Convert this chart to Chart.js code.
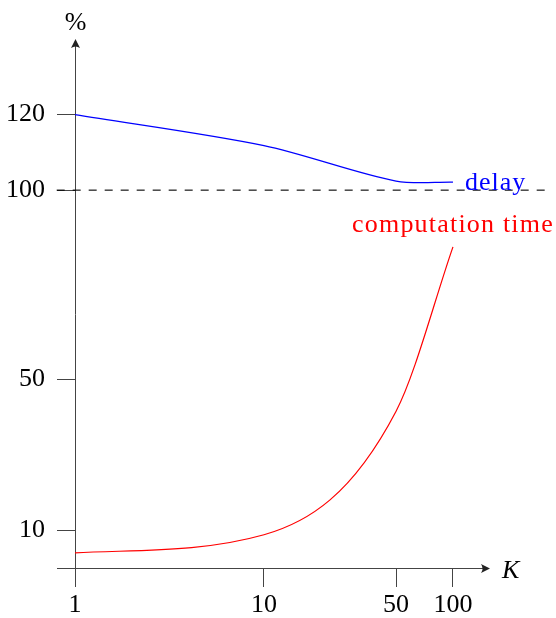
<!DOCTYPE html>
<html>
<head>
<meta charset="utf-8">
<script src="https://cdn.jsdelivr.net/npm/chart.js@4/dist/chart.umd.min.js"></script>
<style>
html,body{margin:0;padding:0;background:#fff;overflow:hidden}
#wrap{position:relative;width:556px;height:618px}
</style>
</head>
<body>
<div id="wrap"><canvas id="c" width="556" height="618"></canvas></div>
<script>
// ---- data ----
const kValues = [1, 10, 50, 100];
const delayPct = [120, 111.8, 102.4, 102.1];
const computationPct = [4, 8.8, 41.5, 85];
const referencePct = 100;
const referenceK = [0.8, 307];
const xTickValues = [1, 10, 50, 100];
const yTickValues = [10, 50, 100, 120];
const xRange = [1, 157];
const yRange = [0, 140];
const seriesNames = ['delay', 'computation time'];
const axisNames = { x: 'K', y: '%' };

const FONT = '"Liberation Serif", "Times New Roman", serif';
const AXIS_COLOR = '#444';

function arrowHead(ctx, tipX, tipY, dir) {
  ctx.beginPath();
  if (dir === 'right') {
    ctx.moveTo(tipX, tipY);
    ctx.lineTo(tipX - 9, tipY - 4.5);
    ctx.quadraticCurveTo(tipX - 6, tipY, tipX - 9, tipY + 4.5);
  } else {
    ctx.moveTo(tipX, tipY);
    ctx.lineTo(tipX - 4.5, tipY + 9);
    ctx.quadraticCurveTo(tipX, tipY + 6, tipX + 4.5, tipY + 9);
  }
  ctx.closePath();
  ctx.fill();
}

const axesPlugin = {
  id: 'tikzAxes',
  beforeDatasetsDraw(chart) {
    const { ctx, chartArea, scales } = chart;
    const xs = scales.x, ys = scales.y;
    const y0 = Math.round(ys.getPixelForValue(yRange[0])) + 0.5;
    const x0 = Math.round(xs.getPixelForValue(xRange[0])) + 0.5;
    const yTick = ys.options.grid.tickLength;
    const xTick = xs.options.grid.tickLength;
    ctx.save();
    ctx.strokeStyle = AXIS_COLOR;
    ctx.fillStyle = '#222';
    ctx.lineWidth = 1;
    ctx.beginPath();
    ctx.moveTo(chartArea.left - yTick, y0);
    ctx.lineTo(chartArea.right - 3, y0);
    ctx.stroke();
    arrowHead(ctx, chartArea.right, y0, 'right');
    ctx.beginPath();
    ctx.moveTo(x0, chartArea.bottom + xTick);
    ctx.lineTo(x0, chartArea.top + 3);
    ctx.stroke();
    arrowHead(ctx, x0, chartArea.top, 'up');
    ctx.fillStyle = '#000';
    ctx.font = '26px ' + FONT;
    ctx.textAlign = 'center';
    ctx.textBaseline = 'alphabetic';
    ctx.fillText(axisNames.y, x0, chartArea.top - 9);
    ctx.font = 'italic 26px ' + FONT;
    ctx.textAlign = 'left';
    ctx.fillText(axisNames.x, chartArea.right + 12, y0 + 9);
    ctx.restore();
  },
  afterDatasetsDraw(chart) {
    const { ctx } = chart;
    const pd = chart.getDatasetMeta(1).data;
    const pc = chart.getDatasetMeta(2).data;
    const lastD = pd[pd.length - 1];
    const lastC = pc[pc.length - 1];
    ctx.save();
    ctx.font = '26px ' + FONT;
    ctx.textBaseline = 'alphabetic';
    ctx.letterSpacing = '1px';
    ctx.fillStyle = '#0000ff';
    ctx.textAlign = 'left';
    ctx.fillText(seriesNames[0], lastD.x + 12, lastD.y + 8);
    ctx.fillStyle = '#ff0000';
    ctx.textAlign = 'center';
    ctx.letterSpacing = '1.2px';
    ctx.fillText(seriesNames[1], lastC.x, lastC.y - 15);
    ctx.restore();
  }
};

const tickFont = { family: FONT, size: 26 };

new Chart(document.getElementById('c'), {
  type: 'line',
  data: {
    datasets: [
      {
        label: 'reference',
        data: referenceK.map(k => ({ x: k, y: referencePct })),
        borderColor: '#000',
        borderWidth: 1.1,
        borderDash: [8, 8],
        pointRadius: 0,
        tension: 0,
        clip: false
      },
      {
        label: seriesNames[0],
        data: kValues.map((k, i) => ({ x: k, y: delayPct[i] })),
        borderColor: '#0000ff',
        borderWidth: 1.2,
        pointRadius: 0,
        tension: 0.3,
        clip: false
      },
      {
        label: seriesNames[1],
        data: kValues.map((k, i) => ({ x: k, y: computationPct[i] })),
        borderColor: '#ff0000',
        borderWidth: 1.2,
        pointRadius: 0,
        cubicInterpolationMode: 'monotone',
        clip: false
      }
    ]
  },
  options: {
    responsive: false,
    animation: false,
    devicePixelRatio: 1,
    layout: { padding: { left: 0, top: 39, right: 66, bottom: 0 } },
    plugins: { legend: { display: false }, tooltip: { enabled: false } },
    scales: {
      x: {
        type: 'logarithmic',
        min: xRange[0],
        max: xRange[1],
        afterBuildTicks: s => { s.ticks = xTickValues.map(v => ({ value: v })); },
        afterFit: s => { s.height = 50; },
        ticks: {
          autoSkip: false, maxRotation: 0, minRotation: 0,
          font: tickFont, color: '#000', padding: 3,
          callback: v => String(v)
        },
        grid: { drawOnChartArea: false, drawTicks: true, tickLength: 19, color: AXIS_COLOR, lineWidth: 1 },
        border: { display: false }
      },
      y: {
        type: 'linear',
        min: yRange[0],
        max: yRange[1],
        afterBuildTicks: s => { s.ticks = yTickValues.map(v => ({ value: v })); },
        afterFit: s => { s.width = 75; },
        ticks: {
          autoSkip: false,
          font: tickFont, color: '#000', padding: 12,
          callback: v => String(v)
        },
        grid: { drawOnChartArea: false, drawTicks: true, tickLength: 18, color: AXIS_COLOR, lineWidth: 1 },
        border: { display: false }
      }
    }
  },
  plugins: [axesPlugin]
});
</script>
</body>
</html>
